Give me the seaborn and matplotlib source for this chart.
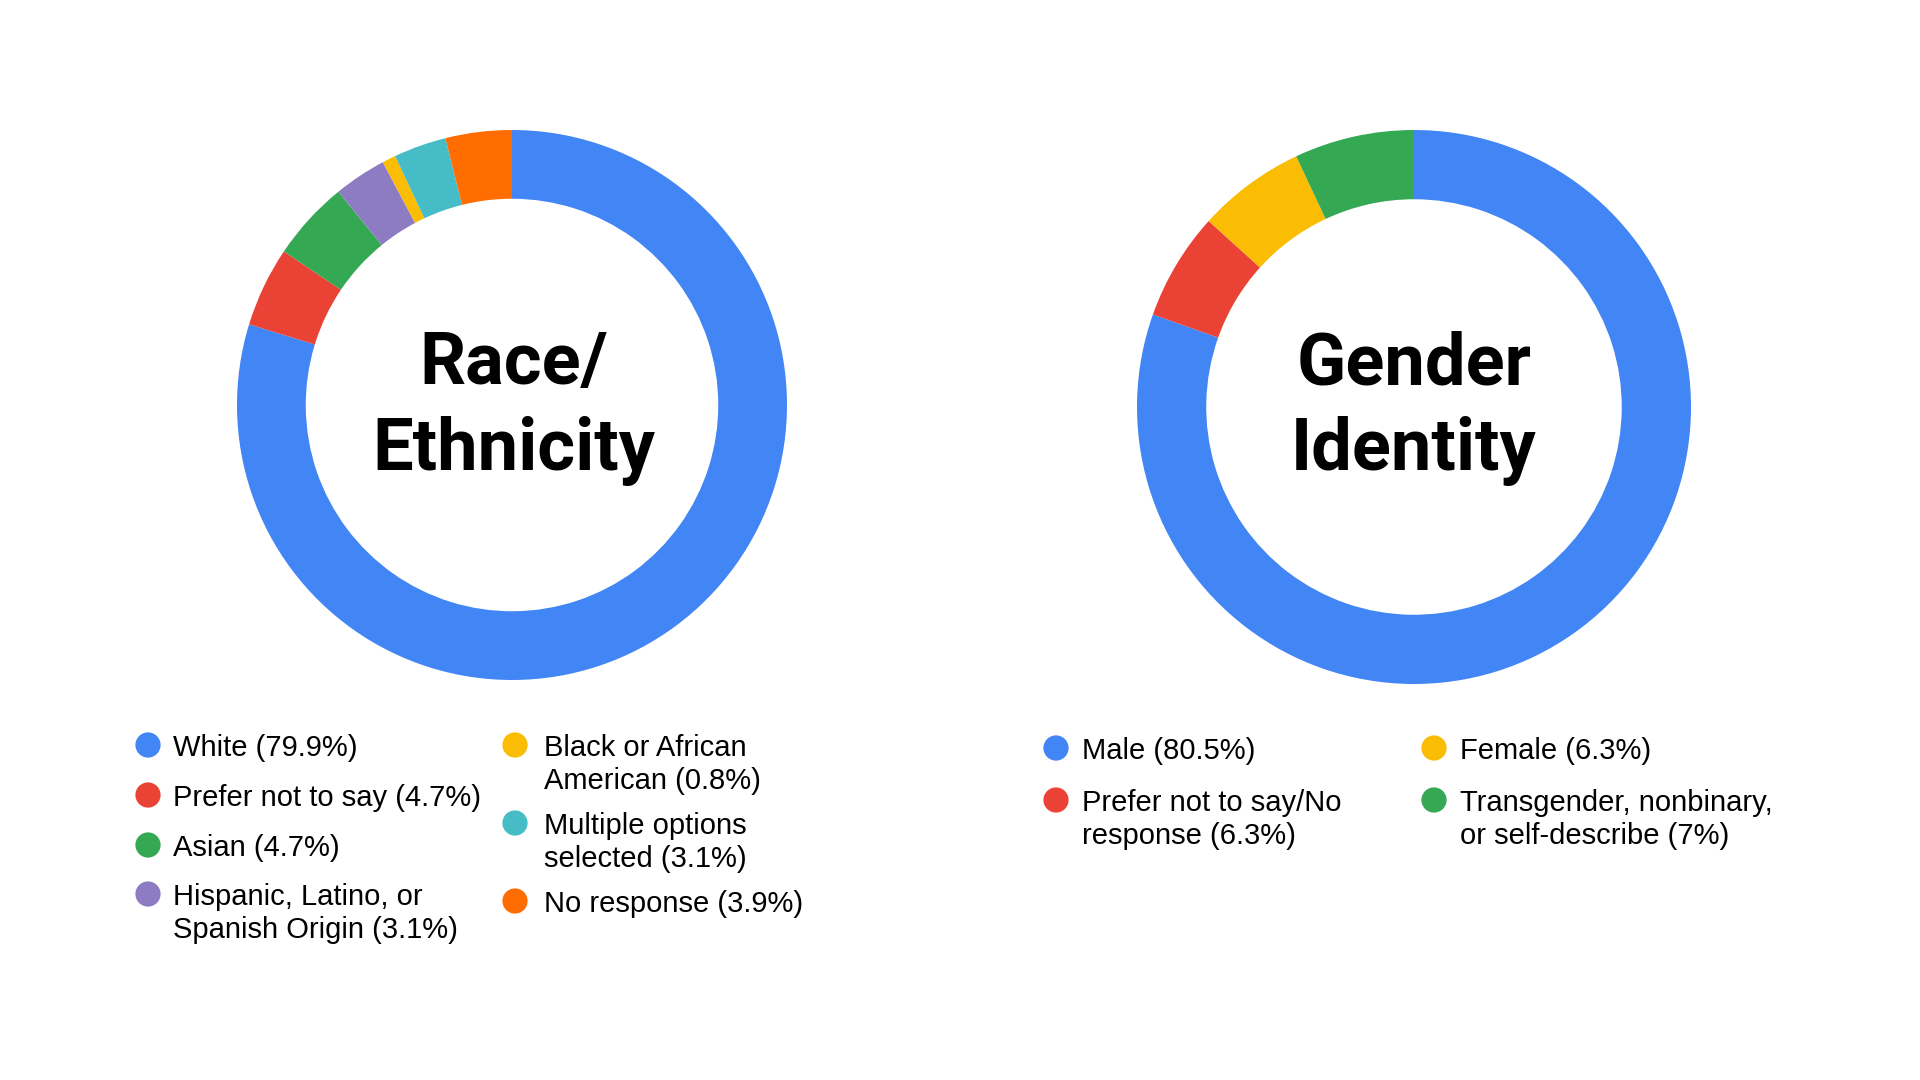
import matplotlib
matplotlib.use("Agg")
import matplotlib.pyplot as plt
import seaborn as sns
import pandas as pd

# ---------------- data ----------------
race_labels = ["White", "Prefer not to say", "Asian", "Hispanic, Latino, or Spanish Origin",
               "Black or African American", "Multiple options selected", "No response"]
race_values = [79.9, 4.7, 4.7, 3.1, 0.8, 3.1, 3.9]
race_legend = ["White (79.9%)", "Prefer not to say (4.7%)", "Asian (4.7%)",
               "Hispanic, Latino, or\nSpanish Origin (3.1%)",
               "Black or African\nAmerican (0.8%)", "Multiple options\nselected (3.1%)",
               "No response (3.9%)"]
race_colors = ["#4285F4", "#EA4335", "#34A853", "#8E7CC3", "#FBBC04", "#46BDC6", "#FF6D01"]

gender_labels = ["Male", "Prefer not to say/No response", "Female",
                 "Transgender, nonbinary, or self-describe"]
gender_values = [80.5, 6.3, 6.3, 7.0]
gender_legend = ["Male (80.5%)", "Prefer not to say/No\nresponse (6.3%)", "Female (6.3%)",
                 "Transgender, nonbinary,\nor self-describe (7%)"]
gender_colors = ["#4285F4", "#EA4335", "#FBBC04", "#34A853"]

race_title = "Race/\nEthnicity"
gender_title = "Gender\nIdentity"

# ---------------- style ----------------
sns.set_theme(style="white")
plt.rcParams["font.family"] = ["Roboto", "DejaVu Sans"]

W, H = 1920, 1080
fig = plt.figure(figsize=(19.2, 10.8), dpi=100)
fig.patch.set_facecolor("white")
ax = fig.add_axes([0, 0, 1, 1])
ax.set_xlim(0, W)
ax.set_ylim(0, H)
ax.set_aspect("equal")
ax.axis("off")


def Y(ypx):
    return H - ypx


def donut(values, colors, cx, cy, r):
    ax.pie(values, colors=colors, startangle=90, counterclock=False,
           center=(cx, Y(cy)), radius=r, frame=True,
           wedgeprops=dict(width=0.25 * r, linewidth=0))


donut(race_values, race_colors, 512, 405, 275)
donut(gender_values, gender_colors, 1414, 407, 277)
ax.set_xlim(0, W)
ax.set_ylim(0, H)
ax.axis("off")

# center titles
for txt, cx in [(race_title, 514), (gender_title, 1414)]:
    ax.text(cx, Y(408), txt, ha="center", va="center", fontsize=52,
            fontweight="bold", color="black", linespacing=1.3,
            family=["Roboto", "DejaVu Sans"])

# legends
LINE_GAP = 33
FS = 21
LEG_FONT = ["Liberation Sans", "DejaVu Sans"]


def legend(labels, colors, circle_x, text_x, rows):
    pts = []
    for lab, col, cxp, txp, ry in zip(labels, colors, circle_x, text_x, rows):
        pts.append(dict(x=cxp, y=Y(ry), c=col))
        for i, line in enumerate(lab.split("\n")):
            ax.text(txp, Y(ry + i * LINE_GAP), line, ha="left", va="center_baseline",
                    fontsize=FS, color="#000000", family=LEG_FONT)
    df = pd.DataFrame(pts)
    sns.scatterplot(data=df, x="x", y="y", hue="c", palette=dict(zip(df.c, df.c)),
                    s=330, linewidth=0, legend=False, ax=ax)


legend(race_legend, race_colors,
       [148, 148, 148, 148, 515, 515, 515],
       [173, 173, 173, 173, 544, 544, 544],
       [745, 795, 845, 894, 745, 823, 901])
legend(gender_legend, gender_colors,
       [1056, 1056, 1434, 1434],
       [1082, 1082, 1460, 1460],
       [748, 800, 748, 800])

ax.set_xlim(0, W)
ax.set_ylim(0, H)
ax.axis("off")
fig.savefig("out.png", dpi=100, facecolor="white")
